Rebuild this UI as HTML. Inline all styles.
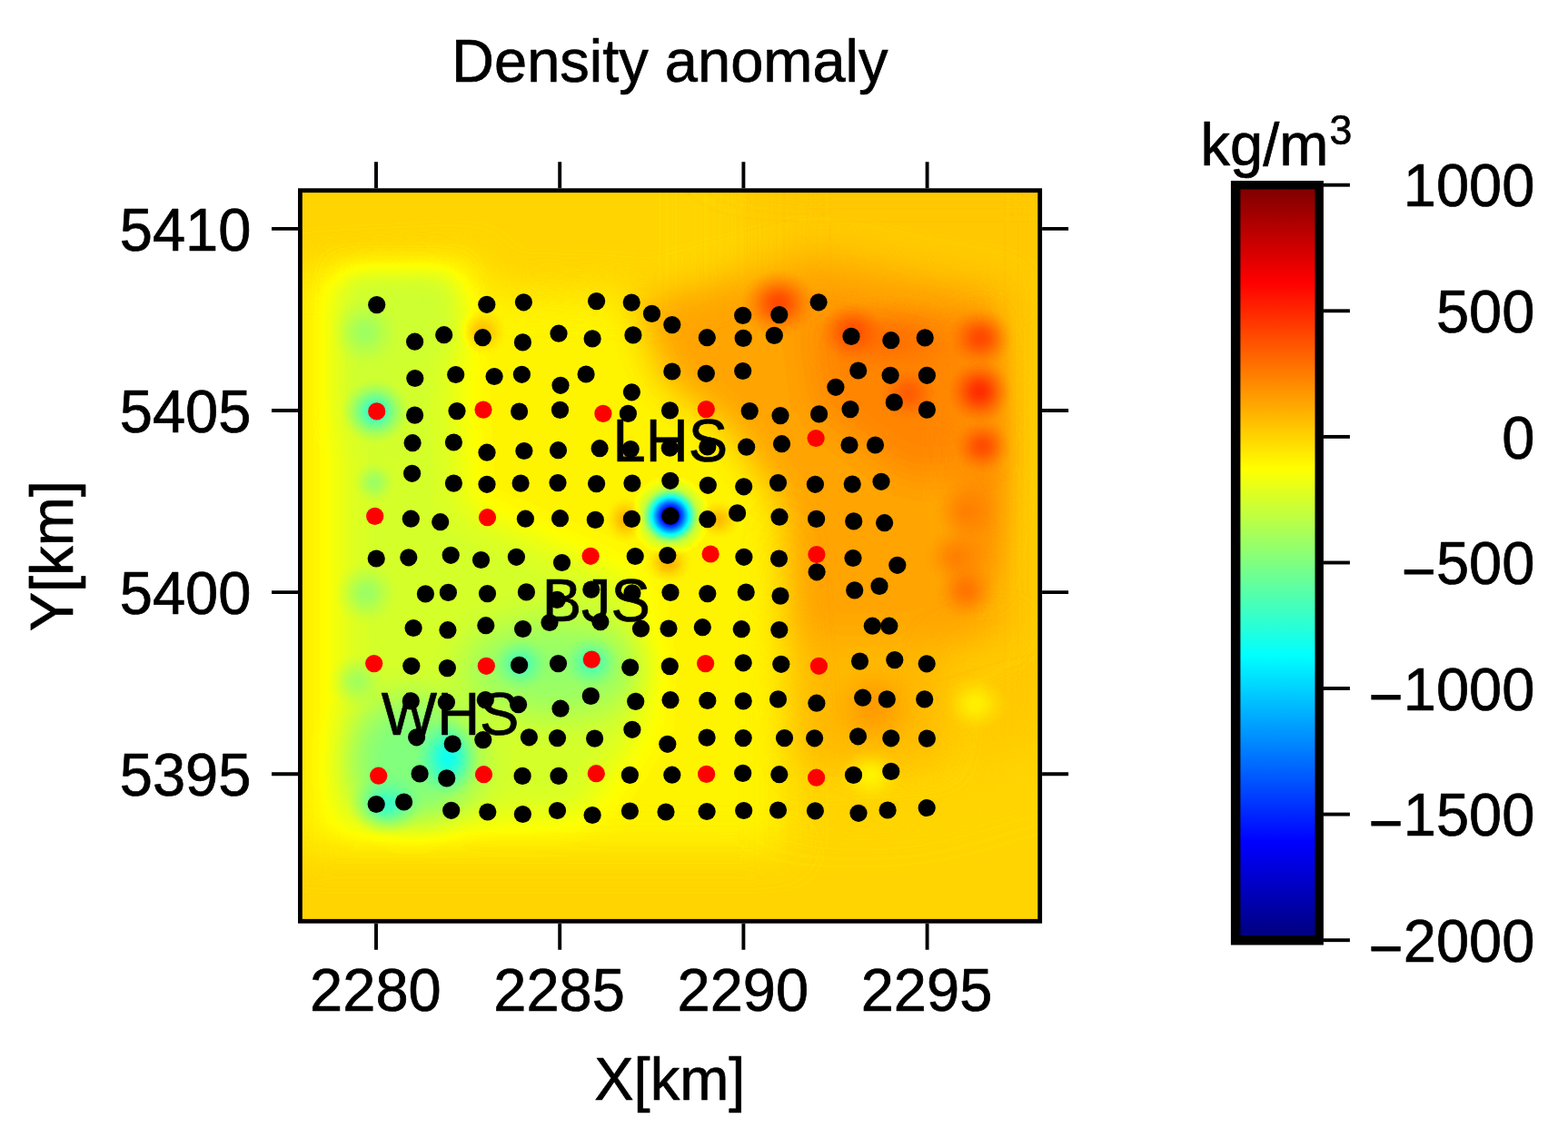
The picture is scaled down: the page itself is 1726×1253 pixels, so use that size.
<!DOCTYPE html>
<html lang="en"><head><meta charset="utf-8"><title>Density anomaly</title>
<style>html,body{margin:0;padding:0;background:#fff}body{width:1726px;height:1253px;overflow:hidden}svg{display:block}text{font-family:"Liberation Sans",Arial,Helvetica,sans-serif;font-size:65px;fill:#000;stroke:#000;stroke-width:0.7px;stroke-linejoin:round}</style>
</head><body>
<svg width="1726" height="1253" viewBox="0 0 1726 1253" role="img" aria-label="Density anomaly map">
<defs>
<radialGradient id="g50" cx="0.5" cy="0.5" r="0.5"><stop offset="0.0" stop-color="rgb(13,13,13)" stop-opacity="1.000"/><stop offset="0.1" stop-color="rgb(13,13,13)" stop-opacity="0.974"/><stop offset="0.2" stop-color="rgb(13,13,13)" stop-opacity="0.899"/><stop offset="0.3" stop-color="rgb(13,13,13)" stop-opacity="0.785"/><stop offset="0.4" stop-color="rgb(13,13,13)" stop-opacity="0.648"/><stop offset="0.5" stop-color="rgb(13,13,13)" stop-opacity="0.502"/><stop offset="0.6" stop-color="rgb(13,13,13)" stop-opacity="0.362"/><stop offset="0.7" stop-color="rgb(13,13,13)" stop-opacity="0.238"/><stop offset="0.8" stop-color="rgb(13,13,13)" stop-opacity="0.136"/><stop offset="0.9" stop-color="rgb(13,13,13)" stop-opacity="0.057"/><stop offset="1.0" stop-color="rgb(13,13,13)" stop-opacity="0.000"/></radialGradient>
<radialGradient id="g380" cx="0.5" cy="0.5" r="0.5"><stop offset="0.0" stop-color="rgb(97,97,97)" stop-opacity="1.000"/><stop offset="0.1" stop-color="rgb(97,97,97)" stop-opacity="0.974"/><stop offset="0.2" stop-color="rgb(97,97,97)" stop-opacity="0.899"/><stop offset="0.3" stop-color="rgb(97,97,97)" stop-opacity="0.785"/><stop offset="0.4" stop-color="rgb(97,97,97)" stop-opacity="0.648"/><stop offset="0.5" stop-color="rgb(97,97,97)" stop-opacity="0.502"/><stop offset="0.6" stop-color="rgb(97,97,97)" stop-opacity="0.362"/><stop offset="0.7" stop-color="rgb(97,97,97)" stop-opacity="0.238"/><stop offset="0.8" stop-color="rgb(97,97,97)" stop-opacity="0.136"/><stop offset="0.9" stop-color="rgb(97,97,97)" stop-opacity="0.057"/><stop offset="1.0" stop-color="rgb(97,97,97)" stop-opacity="0.000"/></radialGradient>
<radialGradient id="g390" cx="0.5" cy="0.5" r="0.5"><stop offset="0.0" stop-color="rgb(99,99,99)" stop-opacity="1.000"/><stop offset="0.1" stop-color="rgb(99,99,99)" stop-opacity="0.974"/><stop offset="0.2" stop-color="rgb(99,99,99)" stop-opacity="0.899"/><stop offset="0.3" stop-color="rgb(99,99,99)" stop-opacity="0.785"/><stop offset="0.4" stop-color="rgb(99,99,99)" stop-opacity="0.648"/><stop offset="0.5" stop-color="rgb(99,99,99)" stop-opacity="0.502"/><stop offset="0.6" stop-color="rgb(99,99,99)" stop-opacity="0.362"/><stop offset="0.7" stop-color="rgb(99,99,99)" stop-opacity="0.238"/><stop offset="0.8" stop-color="rgb(99,99,99)" stop-opacity="0.136"/><stop offset="0.9" stop-color="rgb(99,99,99)" stop-opacity="0.057"/><stop offset="1.0" stop-color="rgb(99,99,99)" stop-opacity="0.000"/></radialGradient>
<radialGradient id="g420" cx="0.5" cy="0.5" r="0.5"><stop offset="0.0" stop-color="rgb(107,107,107)" stop-opacity="1.000"/><stop offset="0.1" stop-color="rgb(107,107,107)" stop-opacity="0.974"/><stop offset="0.2" stop-color="rgb(107,107,107)" stop-opacity="0.899"/><stop offset="0.3" stop-color="rgb(107,107,107)" stop-opacity="0.785"/><stop offset="0.4" stop-color="rgb(107,107,107)" stop-opacity="0.648"/><stop offset="0.5" stop-color="rgb(107,107,107)" stop-opacity="0.502"/><stop offset="0.6" stop-color="rgb(107,107,107)" stop-opacity="0.362"/><stop offset="0.7" stop-color="rgb(107,107,107)" stop-opacity="0.238"/><stop offset="0.8" stop-color="rgb(107,107,107)" stop-opacity="0.136"/><stop offset="0.9" stop-color="rgb(107,107,107)" stop-opacity="0.057"/><stop offset="1.0" stop-color="rgb(107,107,107)" stop-opacity="0.000"/></radialGradient>
<radialGradient id="g425" cx="0.5" cy="0.5" r="0.5"><stop offset="0.0" stop-color="rgb(108,108,108)" stop-opacity="1.000"/><stop offset="0.1" stop-color="rgb(108,108,108)" stop-opacity="0.974"/><stop offset="0.2" stop-color="rgb(108,108,108)" stop-opacity="0.899"/><stop offset="0.3" stop-color="rgb(108,108,108)" stop-opacity="0.785"/><stop offset="0.4" stop-color="rgb(108,108,108)" stop-opacity="0.648"/><stop offset="0.5" stop-color="rgb(108,108,108)" stop-opacity="0.502"/><stop offset="0.6" stop-color="rgb(108,108,108)" stop-opacity="0.362"/><stop offset="0.7" stop-color="rgb(108,108,108)" stop-opacity="0.238"/><stop offset="0.8" stop-color="rgb(108,108,108)" stop-opacity="0.136"/><stop offset="0.9" stop-color="rgb(108,108,108)" stop-opacity="0.057"/><stop offset="1.0" stop-color="rgb(108,108,108)" stop-opacity="0.000"/></radialGradient>
<radialGradient id="g440" cx="0.5" cy="0.5" r="0.5"><stop offset="0.0" stop-color="rgb(112,112,112)" stop-opacity="1.000"/><stop offset="0.1" stop-color="rgb(112,112,112)" stop-opacity="0.974"/><stop offset="0.2" stop-color="rgb(112,112,112)" stop-opacity="0.899"/><stop offset="0.3" stop-color="rgb(112,112,112)" stop-opacity="0.785"/><stop offset="0.4" stop-color="rgb(112,112,112)" stop-opacity="0.648"/><stop offset="0.5" stop-color="rgb(112,112,112)" stop-opacity="0.502"/><stop offset="0.6" stop-color="rgb(112,112,112)" stop-opacity="0.362"/><stop offset="0.7" stop-color="rgb(112,112,112)" stop-opacity="0.238"/><stop offset="0.8" stop-color="rgb(112,112,112)" stop-opacity="0.136"/><stop offset="0.9" stop-color="rgb(112,112,112)" stop-opacity="0.057"/><stop offset="1.0" stop-color="rgb(112,112,112)" stop-opacity="0.000"/></radialGradient>
<radialGradient id="g520" cx="0.5" cy="0.5" r="0.5"><stop offset="0.0" stop-color="rgb(133,133,133)" stop-opacity="1.000"/><stop offset="0.1" stop-color="rgb(133,133,133)" stop-opacity="0.974"/><stop offset="0.2" stop-color="rgb(133,133,133)" stop-opacity="0.899"/><stop offset="0.3" stop-color="rgb(133,133,133)" stop-opacity="0.785"/><stop offset="0.4" stop-color="rgb(133,133,133)" stop-opacity="0.648"/><stop offset="0.5" stop-color="rgb(133,133,133)" stop-opacity="0.502"/><stop offset="0.6" stop-color="rgb(133,133,133)" stop-opacity="0.362"/><stop offset="0.7" stop-color="rgb(133,133,133)" stop-opacity="0.238"/><stop offset="0.8" stop-color="rgb(133,133,133)" stop-opacity="0.136"/><stop offset="0.9" stop-color="rgb(133,133,133)" stop-opacity="0.057"/><stop offset="1.0" stop-color="rgb(133,133,133)" stop-opacity="0.000"/></radialGradient>
<radialGradient id="g525" cx="0.5" cy="0.5" r="0.5"><stop offset="0.0" stop-color="rgb(134,134,134)" stop-opacity="1.000"/><stop offset="0.1" stop-color="rgb(134,134,134)" stop-opacity="0.974"/><stop offset="0.2" stop-color="rgb(134,134,134)" stop-opacity="0.899"/><stop offset="0.3" stop-color="rgb(134,134,134)" stop-opacity="0.785"/><stop offset="0.4" stop-color="rgb(134,134,134)" stop-opacity="0.648"/><stop offset="0.5" stop-color="rgb(134,134,134)" stop-opacity="0.502"/><stop offset="0.6" stop-color="rgb(134,134,134)" stop-opacity="0.362"/><stop offset="0.7" stop-color="rgb(134,134,134)" stop-opacity="0.238"/><stop offset="0.8" stop-color="rgb(134,134,134)" stop-opacity="0.136"/><stop offset="0.9" stop-color="rgb(134,134,134)" stop-opacity="0.057"/><stop offset="1.0" stop-color="rgb(134,134,134)" stop-opacity="0.000"/></radialGradient>
<radialGradient id="g530" cx="0.5" cy="0.5" r="0.5"><stop offset="0.0" stop-color="rgb(135,135,135)" stop-opacity="1.000"/><stop offset="0.1" stop-color="rgb(135,135,135)" stop-opacity="0.974"/><stop offset="0.2" stop-color="rgb(135,135,135)" stop-opacity="0.899"/><stop offset="0.3" stop-color="rgb(135,135,135)" stop-opacity="0.785"/><stop offset="0.4" stop-color="rgb(135,135,135)" stop-opacity="0.648"/><stop offset="0.5" stop-color="rgb(135,135,135)" stop-opacity="0.502"/><stop offset="0.6" stop-color="rgb(135,135,135)" stop-opacity="0.362"/><stop offset="0.7" stop-color="rgb(135,135,135)" stop-opacity="0.238"/><stop offset="0.8" stop-color="rgb(135,135,135)" stop-opacity="0.136"/><stop offset="0.9" stop-color="rgb(135,135,135)" stop-opacity="0.057"/><stop offset="1.0" stop-color="rgb(135,135,135)" stop-opacity="0.000"/></radialGradient>
<radialGradient id="g635" cx="0.5" cy="0.5" r="0.5"><stop offset="0.0" stop-color="rgb(162,162,162)" stop-opacity="1.000"/><stop offset="0.1" stop-color="rgb(162,162,162)" stop-opacity="0.974"/><stop offset="0.2" stop-color="rgb(162,162,162)" stop-opacity="0.899"/><stop offset="0.3" stop-color="rgb(162,162,162)" stop-opacity="0.785"/><stop offset="0.4" stop-color="rgb(162,162,162)" stop-opacity="0.648"/><stop offset="0.5" stop-color="rgb(162,162,162)" stop-opacity="0.502"/><stop offset="0.6" stop-color="rgb(162,162,162)" stop-opacity="0.362"/><stop offset="0.7" stop-color="rgb(162,162,162)" stop-opacity="0.238"/><stop offset="0.8" stop-color="rgb(162,162,162)" stop-opacity="0.136"/><stop offset="0.9" stop-color="rgb(162,162,162)" stop-opacity="0.057"/><stop offset="1.0" stop-color="rgb(162,162,162)" stop-opacity="0.000"/></radialGradient>
<radialGradient id="g640" cx="0.5" cy="0.5" r="0.5"><stop offset="0.0" stop-color="rgb(163,163,163)" stop-opacity="1.000"/><stop offset="0.1" stop-color="rgb(163,163,163)" stop-opacity="0.974"/><stop offset="0.2" stop-color="rgb(163,163,163)" stop-opacity="0.899"/><stop offset="0.3" stop-color="rgb(163,163,163)" stop-opacity="0.785"/><stop offset="0.4" stop-color="rgb(163,163,163)" stop-opacity="0.648"/><stop offset="0.5" stop-color="rgb(163,163,163)" stop-opacity="0.502"/><stop offset="0.6" stop-color="rgb(163,163,163)" stop-opacity="0.362"/><stop offset="0.7" stop-color="rgb(163,163,163)" stop-opacity="0.238"/><stop offset="0.8" stop-color="rgb(163,163,163)" stop-opacity="0.136"/><stop offset="0.9" stop-color="rgb(163,163,163)" stop-opacity="0.057"/><stop offset="1.0" stop-color="rgb(163,163,163)" stop-opacity="0.000"/></radialGradient>
<radialGradient id="g685" cx="0.5" cy="0.5" r="0.5"><stop offset="0.0" stop-color="rgb(175,175,175)" stop-opacity="1.000"/><stop offset="0.1" stop-color="rgb(175,175,175)" stop-opacity="0.974"/><stop offset="0.2" stop-color="rgb(175,175,175)" stop-opacity="0.899"/><stop offset="0.3" stop-color="rgb(175,175,175)" stop-opacity="0.785"/><stop offset="0.4" stop-color="rgb(175,175,175)" stop-opacity="0.648"/><stop offset="0.5" stop-color="rgb(175,175,175)" stop-opacity="0.502"/><stop offset="0.6" stop-color="rgb(175,175,175)" stop-opacity="0.362"/><stop offset="0.7" stop-color="rgb(175,175,175)" stop-opacity="0.238"/><stop offset="0.8" stop-color="rgb(175,175,175)" stop-opacity="0.136"/><stop offset="0.9" stop-color="rgb(175,175,175)" stop-opacity="0.057"/><stop offset="1.0" stop-color="rgb(175,175,175)" stop-opacity="0.000"/></radialGradient>
<radialGradient id="g690" cx="0.5" cy="0.5" r="0.5"><stop offset="0.0" stop-color="rgb(176,176,176)" stop-opacity="1.000"/><stop offset="0.1" stop-color="rgb(176,176,176)" stop-opacity="0.974"/><stop offset="0.2" stop-color="rgb(176,176,176)" stop-opacity="0.899"/><stop offset="0.3" stop-color="rgb(176,176,176)" stop-opacity="0.785"/><stop offset="0.4" stop-color="rgb(176,176,176)" stop-opacity="0.648"/><stop offset="0.5" stop-color="rgb(176,176,176)" stop-opacity="0.502"/><stop offset="0.6" stop-color="rgb(176,176,176)" stop-opacity="0.362"/><stop offset="0.7" stop-color="rgb(176,176,176)" stop-opacity="0.238"/><stop offset="0.8" stop-color="rgb(176,176,176)" stop-opacity="0.136"/><stop offset="0.9" stop-color="rgb(176,176,176)" stop-opacity="0.057"/><stop offset="1.0" stop-color="rgb(176,176,176)" stop-opacity="0.000"/></radialGradient>
<radialGradient id="g700" cx="0.5" cy="0.5" r="0.5"><stop offset="0.0" stop-color="rgb(178,178,178)" stop-opacity="1.000"/><stop offset="0.1" stop-color="rgb(178,178,178)" stop-opacity="0.974"/><stop offset="0.2" stop-color="rgb(178,178,178)" stop-opacity="0.899"/><stop offset="0.3" stop-color="rgb(178,178,178)" stop-opacity="0.785"/><stop offset="0.4" stop-color="rgb(178,178,178)" stop-opacity="0.648"/><stop offset="0.5" stop-color="rgb(178,178,178)" stop-opacity="0.502"/><stop offset="0.6" stop-color="rgb(178,178,178)" stop-opacity="0.362"/><stop offset="0.7" stop-color="rgb(178,178,178)" stop-opacity="0.238"/><stop offset="0.8" stop-color="rgb(178,178,178)" stop-opacity="0.136"/><stop offset="0.9" stop-color="rgb(178,178,178)" stop-opacity="0.057"/><stop offset="1.0" stop-color="rgb(178,178,178)" stop-opacity="0.000"/></radialGradient>
<radialGradient id="g720" cx="0.5" cy="0.5" r="0.5"><stop offset="0.0" stop-color="rgb(184,184,184)" stop-opacity="1.000"/><stop offset="0.1" stop-color="rgb(184,184,184)" stop-opacity="0.974"/><stop offset="0.2" stop-color="rgb(184,184,184)" stop-opacity="0.899"/><stop offset="0.3" stop-color="rgb(184,184,184)" stop-opacity="0.785"/><stop offset="0.4" stop-color="rgb(184,184,184)" stop-opacity="0.648"/><stop offset="0.5" stop-color="rgb(184,184,184)" stop-opacity="0.502"/><stop offset="0.6" stop-color="rgb(184,184,184)" stop-opacity="0.362"/><stop offset="0.7" stop-color="rgb(184,184,184)" stop-opacity="0.238"/><stop offset="0.8" stop-color="rgb(184,184,184)" stop-opacity="0.136"/><stop offset="0.9" stop-color="rgb(184,184,184)" stop-opacity="0.057"/><stop offset="1.0" stop-color="rgb(184,184,184)" stop-opacity="0.000"/></radialGradient>
<radialGradient id="g750" cx="0.5" cy="0.5" r="0.5"><stop offset="0.0" stop-color="rgb(191,191,191)" stop-opacity="1.000"/><stop offset="0.1" stop-color="rgb(191,191,191)" stop-opacity="0.974"/><stop offset="0.2" stop-color="rgb(191,191,191)" stop-opacity="0.899"/><stop offset="0.3" stop-color="rgb(191,191,191)" stop-opacity="0.785"/><stop offset="0.4" stop-color="rgb(191,191,191)" stop-opacity="0.648"/><stop offset="0.5" stop-color="rgb(191,191,191)" stop-opacity="0.502"/><stop offset="0.6" stop-color="rgb(191,191,191)" stop-opacity="0.362"/><stop offset="0.7" stop-color="rgb(191,191,191)" stop-opacity="0.238"/><stop offset="0.8" stop-color="rgb(191,191,191)" stop-opacity="0.136"/><stop offset="0.9" stop-color="rgb(191,191,191)" stop-opacity="0.057"/><stop offset="1.0" stop-color="rgb(191,191,191)" stop-opacity="0.000"/></radialGradient>
<radialGradient id="g760" cx="0.5" cy="0.5" r="0.5"><stop offset="0.0" stop-color="rgb(194,194,194)" stop-opacity="1.000"/><stop offset="0.1" stop-color="rgb(194,194,194)" stop-opacity="0.974"/><stop offset="0.2" stop-color="rgb(194,194,194)" stop-opacity="0.899"/><stop offset="0.3" stop-color="rgb(194,194,194)" stop-opacity="0.785"/><stop offset="0.4" stop-color="rgb(194,194,194)" stop-opacity="0.648"/><stop offset="0.5" stop-color="rgb(194,194,194)" stop-opacity="0.502"/><stop offset="0.6" stop-color="rgb(194,194,194)" stop-opacity="0.362"/><stop offset="0.7" stop-color="rgb(194,194,194)" stop-opacity="0.238"/><stop offset="0.8" stop-color="rgb(194,194,194)" stop-opacity="0.136"/><stop offset="0.9" stop-color="rgb(194,194,194)" stop-opacity="0.057"/><stop offset="1.0" stop-color="rgb(194,194,194)" stop-opacity="0.000"/></radialGradient>
<radialGradient id="g785" cx="0.5" cy="0.5" r="0.5"><stop offset="0.0" stop-color="rgb(200,200,200)" stop-opacity="1.000"/><stop offset="0.1" stop-color="rgb(200,200,200)" stop-opacity="0.974"/><stop offset="0.2" stop-color="rgb(200,200,200)" stop-opacity="0.899"/><stop offset="0.3" stop-color="rgb(200,200,200)" stop-opacity="0.785"/><stop offset="0.4" stop-color="rgb(200,200,200)" stop-opacity="0.648"/><stop offset="0.5" stop-color="rgb(200,200,200)" stop-opacity="0.502"/><stop offset="0.6" stop-color="rgb(200,200,200)" stop-opacity="0.362"/><stop offset="0.7" stop-color="rgb(200,200,200)" stop-opacity="0.238"/><stop offset="0.8" stop-color="rgb(200,200,200)" stop-opacity="0.136"/><stop offset="0.9" stop-color="rgb(200,200,200)" stop-opacity="0.057"/><stop offset="1.0" stop-color="rgb(200,200,200)" stop-opacity="0.000"/></radialGradient>
<radialGradient id="g795" cx="0.5" cy="0.5" r="0.5"><stop offset="0.0" stop-color="rgb(203,203,203)" stop-opacity="1.000"/><stop offset="0.1" stop-color="rgb(203,203,203)" stop-opacity="0.974"/><stop offset="0.2" stop-color="rgb(203,203,203)" stop-opacity="0.899"/><stop offset="0.3" stop-color="rgb(203,203,203)" stop-opacity="0.785"/><stop offset="0.4" stop-color="rgb(203,203,203)" stop-opacity="0.648"/><stop offset="0.5" stop-color="rgb(203,203,203)" stop-opacity="0.502"/><stop offset="0.6" stop-color="rgb(203,203,203)" stop-opacity="0.362"/><stop offset="0.7" stop-color="rgb(203,203,203)" stop-opacity="0.238"/><stop offset="0.8" stop-color="rgb(203,203,203)" stop-opacity="0.136"/><stop offset="0.9" stop-color="rgb(203,203,203)" stop-opacity="0.057"/><stop offset="1.0" stop-color="rgb(203,203,203)" stop-opacity="0.000"/></radialGradient>
<radialGradient id="g800" cx="0.5" cy="0.5" r="0.5"><stop offset="0.0" stop-color="rgb(204,204,204)" stop-opacity="1.000"/><stop offset="0.1" stop-color="rgb(204,204,204)" stop-opacity="0.974"/><stop offset="0.2" stop-color="rgb(204,204,204)" stop-opacity="0.899"/><stop offset="0.3" stop-color="rgb(204,204,204)" stop-opacity="0.785"/><stop offset="0.4" stop-color="rgb(204,204,204)" stop-opacity="0.648"/><stop offset="0.5" stop-color="rgb(204,204,204)" stop-opacity="0.502"/><stop offset="0.6" stop-color="rgb(204,204,204)" stop-opacity="0.362"/><stop offset="0.7" stop-color="rgb(204,204,204)" stop-opacity="0.238"/><stop offset="0.8" stop-color="rgb(204,204,204)" stop-opacity="0.136"/><stop offset="0.9" stop-color="rgb(204,204,204)" stop-opacity="0.057"/><stop offset="1.0" stop-color="rgb(204,204,204)" stop-opacity="0.000"/></radialGradient>
<radialGradient id="g805" cx="0.5" cy="0.5" r="0.5"><stop offset="0.0" stop-color="rgb(205,205,205)" stop-opacity="1.000"/><stop offset="0.1" stop-color="rgb(205,205,205)" stop-opacity="0.974"/><stop offset="0.2" stop-color="rgb(205,205,205)" stop-opacity="0.899"/><stop offset="0.3" stop-color="rgb(205,205,205)" stop-opacity="0.785"/><stop offset="0.4" stop-color="rgb(205,205,205)" stop-opacity="0.648"/><stop offset="0.5" stop-color="rgb(205,205,205)" stop-opacity="0.502"/><stop offset="0.6" stop-color="rgb(205,205,205)" stop-opacity="0.362"/><stop offset="0.7" stop-color="rgb(205,205,205)" stop-opacity="0.238"/><stop offset="0.8" stop-color="rgb(205,205,205)" stop-opacity="0.136"/><stop offset="0.9" stop-color="rgb(205,205,205)" stop-opacity="0.057"/><stop offset="1.0" stop-color="rgb(205,205,205)" stop-opacity="0.000"/></radialGradient>
<radialGradient id="g830" cx="0.5" cy="0.5" r="0.5"><stop offset="0.0" stop-color="rgb(212,212,212)" stop-opacity="1.000"/><stop offset="0.1" stop-color="rgb(212,212,212)" stop-opacity="0.974"/><stop offset="0.2" stop-color="rgb(212,212,212)" stop-opacity="0.899"/><stop offset="0.3" stop-color="rgb(212,212,212)" stop-opacity="0.785"/><stop offset="0.4" stop-color="rgb(212,212,212)" stop-opacity="0.648"/><stop offset="0.5" stop-color="rgb(212,212,212)" stop-opacity="0.502"/><stop offset="0.6" stop-color="rgb(212,212,212)" stop-opacity="0.362"/><stop offset="0.7" stop-color="rgb(212,212,212)" stop-opacity="0.238"/><stop offset="0.8" stop-color="rgb(212,212,212)" stop-opacity="0.136"/><stop offset="0.9" stop-color="rgb(212,212,212)" stop-opacity="0.057"/><stop offset="1.0" stop-color="rgb(212,212,212)" stop-opacity="0.000"/></radialGradient>
<filter id="b40" x="-0.5" y="-0.5" width="2" height="2" color-interpolation-filters="sRGB"><feGaussianBlur stdDeviation="40"/></filter>
<filter id="b20" x="-0.5" y="-0.5" width="2" height="2" color-interpolation-filters="sRGB"><feGaussianBlur stdDeviation="20"/></filter>
<filter id="b15" x="-0.5" y="-0.5" width="2" height="2" color-interpolation-filters="sRGB"><feGaussianBlur stdDeviation="15"/></filter>
<filter id="jet" x="0" y="0" width="1" height="1" filterUnits="objectBoundingBox" color-interpolation-filters="sRGB"><feComponentTransfer><feFuncR type="table" tableValues="0 0 0 0 0.5 1 1 1 0.5"/><feFuncG type="table" tableValues="0 0 0.5 1 1 1 0.5 0 0"/><feFuncB type="table" tableValues="0.5 1 1 1 0.5 0 0 0 0"/></feComponentTransfer></filter>
<linearGradient id="cb" x1="0" y1="1" x2="0" y2="0"><stop offset="0" stop-color="#000080"/><stop offset="0.125" stop-color="#0000ff"/><stop offset="0.375" stop-color="#00ffff"/><stop offset="0.625" stop-color="#ffff00"/><stop offset="0.875" stop-color="#ff0000"/><stop offset="1" stop-color="#800000"/></linearGradient>
<clipPath id="pc"><rect x="330.4" y="209.7" width="814.3" height="804.6"/></clipPath>
</defs>
<rect width="1726" height="1253" fill="#fff"/>
<g clip-path="url(#pc)"><g filter="url(#jet)">
<rect x="320.4" y="199.7" width="834.3" height="824.6" fill="rgb(170,170,170)"/>
<g filter="url(#b40)">
<polygon points="820,150 1200,150 1200,800 1000,860 870,860 820,500" fill="rgb(173,173,173)"/>
</g>
<g filter="url(#b20)">
<polygon points="325,300 520,290 545,322 690,325 780,400 830,480 862,560 862,935 325,935" fill="rgb(162,162,162)"/>
<polygon points="372,310 500,310 512,560 700,640 710,800 640,900 372,910" fill="rgb(149,149,149)"/>
<polygon points="700,335 900,282 1105,322 1105,690 1040,715 872,715 862,560 800,470 730,420" fill="rgb(182,182,182)"/>
<polygon points="872,700 1040,700 1030,830 882,840" fill="rgb(177,177,177)"/>
<polygon points="885,340 1095,350 1095,515 1000,525 900,450" fill="rgb(190,190,190)"/>
<ellipse cx="610" cy="735" rx="100" ry="52" fill="rgb(133,133,133)"/>
<ellipse cx="455" cy="838" rx="72" ry="70" fill="rgb(128,128,128)"/>
</g>
<g filter="url(#b15)">
<polygon points="380,303 500,303 500,388 440,398 436,470 380,470" fill="rgb(147,147,147)"/>
<ellipse cx="975" cy="374" rx="55" ry="18" fill="rgb(196,196,196)"/>
<ellipse cx="1078" cy="500" rx="26" ry="150" fill="rgb(187,187,187)"/>
</g>
<ellipse cx="402" cy="366" rx="38" ry="38" fill="url(#g525)" opacity="0.9"/>
<ellipse cx="413" cy="453" rx="38" ry="36" fill="url(#g425)" opacity="1"/>
<ellipse cx="412" cy="531" rx="24" ry="24" fill="url(#g520)" opacity="0.9"/>
<ellipse cx="403" cy="653" rx="36" ry="36" fill="url(#g520)" opacity="0.9"/>
<ellipse cx="393" cy="750" rx="32" ry="32" fill="url(#g530)" opacity="0.9"/>
<ellipse cx="573" cy="731" rx="32" ry="30" fill="url(#g440)" opacity="0.9"/>
<ellipse cx="651" cy="729" rx="32" ry="30" fill="url(#g440)" opacity="0.9"/>
<ellipse cx="493" cy="834" rx="36" ry="44" fill="url(#g390)" opacity="1"/>
<ellipse cx="425" cy="886" rx="42" ry="34" fill="url(#g420)" opacity="0.9"/>
<ellipse cx="738" cy="568" rx="45" ry="45" fill="url(#g380)" opacity="1"/>
<ellipse cx="738" cy="568" rx="30" ry="30" fill="url(#g50)" opacity="1"/>
<ellipse cx="791" cy="572" rx="24" ry="22" fill="url(#g690)" opacity="1"/>
<ellipse cx="857" cy="334" rx="42" ry="38" fill="url(#g805)" opacity="1"/>
<ellipse cx="938" cy="365" rx="36" ry="32" fill="url(#g795)" opacity="1"/>
<ellipse cx="1079" cy="372" rx="36" ry="33" fill="url(#g805)" opacity="1"/>
<ellipse cx="1078" cy="431" rx="36" ry="36" fill="url(#g830)" opacity="1"/>
<ellipse cx="1081" cy="491" rx="32" ry="30" fill="url(#g800)" opacity="1"/>
<ellipse cx="1000" cy="433" rx="32" ry="30" fill="url(#g785)" opacity="1"/>
<ellipse cx="1065" cy="563" rx="36" ry="36" fill="url(#g750)" opacity="1"/>
<ellipse cx="1053" cy="613" rx="36" ry="34" fill="url(#g750)" opacity="1"/>
<ellipse cx="1063" cy="650" rx="34" ry="34" fill="url(#g760)" opacity="1"/>
<ellipse cx="531" cy="365" rx="28" ry="28" fill="url(#g685)" opacity="1"/>
<ellipse cx="688" cy="572" rx="22" ry="26" fill="url(#g700)" opacity="1"/>
<ellipse cx="736" cy="620" rx="26" ry="22" fill="url(#g700)" opacity="1"/>
<ellipse cx="962" cy="778" rx="50" ry="50" fill="url(#g720)" opacity="1"/>
<ellipse cx="1074" cy="775" rx="36" ry="32" fill="url(#g640)" opacity="1"/>
<ellipse cx="958" cy="854" rx="36" ry="30" fill="url(#g635)" opacity="1"/>
</g></g>
<g fill="#000">
<circle cx="414.7" cy="335.6" r="9.6"/>
<circle cx="535.8" cy="335.3" r="9.6"/>
<circle cx="576.4" cy="332.8" r="9.6"/>
<circle cx="656.6" cy="331.6" r="9.6"/>
<circle cx="695.2" cy="333.1" r="9.6"/>
<circle cx="717.5" cy="345.4" r="9.6"/>
<circle cx="739.8" cy="357.6" r="9.6"/>
<circle cx="456.6" cy="376.2" r="9.6"/>
<circle cx="488.7" cy="368.7" r="9.6"/>
<circle cx="531.3" cy="371.7" r="9.6"/>
<circle cx="575.4" cy="376.9" r="9.6"/>
<circle cx="615.0" cy="367.2" r="9.6"/>
<circle cx="652.1" cy="372.9" r="9.6"/>
<circle cx="696.9" cy="368.9" r="9.6"/>
<circle cx="456.8" cy="416.5" r="9.6"/>
<circle cx="501.7" cy="412.5" r="9.6"/>
<circle cx="544.1" cy="414.5" r="9.6"/>
<circle cx="574.4" cy="412.3" r="9.6"/>
<circle cx="617.0" cy="424.3" r="9.6"/>
<circle cx="645.1" cy="412.0" r="9.6"/>
<circle cx="739.8" cy="409.0" r="9.6"/>
<circle cx="695.4" cy="431.8" r="9.6"/>
<circle cx="456.6" cy="457.1" r="9.6"/>
<circle cx="503.0" cy="452.6" r="9.6"/>
<circle cx="571.6" cy="453.1" r="9.6"/>
<circle cx="616.5" cy="451.4" r="9.6"/>
<circle cx="691.4" cy="455.4" r="9.6"/>
<circle cx="737.5" cy="451.9" r="9.6"/>
<circle cx="454.1" cy="487.7" r="9.6"/>
<circle cx="499.4" cy="487.0" r="9.6"/>
<circle cx="536.0" cy="498.2" r="9.6"/>
<circle cx="576.9" cy="496.5" r="9.6"/>
<circle cx="614.5" cy="495.7" r="9.6"/>
<circle cx="660.1" cy="493.7" r="9.6"/>
<circle cx="694.2" cy="494.5" r="9.6"/>
<circle cx="737.3" cy="493.2" r="9.6"/>
<circle cx="901.1" cy="332.8" r="9.6"/>
<circle cx="817.7" cy="347.4" r="9.6"/>
<circle cx="857.8" cy="346.6" r="9.6"/>
<circle cx="778.3" cy="371.7" r="9.6"/>
<circle cx="818.2" cy="372.4" r="9.6"/>
<circle cx="852.3" cy="369.4" r="9.6"/>
<circle cx="937.0" cy="370.4" r="9.6"/>
<circle cx="980.8" cy="374.7" r="9.6"/>
<circle cx="1018.2" cy="371.9" r="9.6"/>
<circle cx="777.3" cy="411.3" r="9.6"/>
<circle cx="817.7" cy="408.5" r="9.6"/>
<circle cx="944.7" cy="408.0" r="9.6"/>
<circle cx="980.1" cy="413.3" r="9.6"/>
<circle cx="1020.4" cy="413.3" r="9.6"/>
<circle cx="919.9" cy="426.3" r="9.6"/>
<circle cx="825.2" cy="452.6" r="9.6"/>
<circle cx="859.0" cy="457.6" r="9.6"/>
<circle cx="901.6" cy="455.9" r="9.6"/>
<circle cx="936.0" cy="450.6" r="9.6"/>
<circle cx="984.3" cy="442.9" r="9.6"/>
<circle cx="1020.4" cy="451.1" r="9.6"/>
<circle cx="778.8" cy="492.0" r="9.6"/>
<circle cx="821.7" cy="492.2" r="9.6"/>
<circle cx="860.5" cy="488.7" r="9.6"/>
<circle cx="935.0" cy="490.0" r="9.6"/>
<circle cx="963.5" cy="490.0" r="9.6"/>
<circle cx="453.6" cy="521.3" r="9.6"/>
<circle cx="499.4" cy="532.1" r="9.6"/>
<circle cx="536.0" cy="533.3" r="9.6"/>
<circle cx="573.1" cy="532.1" r="9.6"/>
<circle cx="614.0" cy="531.6" r="9.6"/>
<circle cx="656.6" cy="532.6" r="9.6"/>
<circle cx="695.9" cy="532.1" r="9.6"/>
<circle cx="737.8" cy="529.3" r="9.6"/>
<circle cx="452.3" cy="571.2" r="9.6"/>
<circle cx="484.7" cy="574.7" r="9.6"/>
<circle cx="578.4" cy="571.2" r="9.6"/>
<circle cx="616.5" cy="570.7" r="9.6"/>
<circle cx="655.3" cy="572.4" r="9.6"/>
<circle cx="695.4" cy="571.4" r="9.6"/>
<circle cx="738.0" cy="568.2" r="9.6"/>
<circle cx="414.2" cy="615.0" r="9.6"/>
<circle cx="449.8" cy="613.8" r="9.6"/>
<circle cx="496.2" cy="611.3" r="9.6"/>
<circle cx="529.5" cy="616.5" r="9.6"/>
<circle cx="568.4" cy="613.3" r="9.6"/>
<circle cx="618.5" cy="619.5" r="9.6"/>
<circle cx="699.2" cy="612.5" r="9.6"/>
<circle cx="734.8" cy="611.5" r="9.6"/>
<circle cx="468.4" cy="653.9" r="9.6"/>
<circle cx="493.4" cy="652.4" r="9.6"/>
<circle cx="536.5" cy="653.6" r="9.6"/>
<circle cx="579.4" cy="651.9" r="9.6"/>
<circle cx="650.8" cy="649.1" r="9.6"/>
<circle cx="695.9" cy="652.9" r="9.6"/>
<circle cx="738.0" cy="652.4" r="9.6"/>
<circle cx="613.2" cy="660.4" r="9.6"/>
<circle cx="455.1" cy="691.5" r="9.6"/>
<circle cx="492.9" cy="693.7" r="9.6"/>
<circle cx="534.8" cy="688.7" r="9.6"/>
<circle cx="575.6" cy="692.5" r="9.6"/>
<circle cx="605.0" cy="685.5" r="9.6"/>
<circle cx="660.9" cy="684.7" r="9.6"/>
<circle cx="705.5" cy="692.2" r="9.6"/>
<circle cx="736.0" cy="692.0" r="9.6"/>
<circle cx="452.8" cy="733.3" r="9.6"/>
<circle cx="492.4" cy="735.6" r="9.6"/>
<circle cx="571.6" cy="732.3" r="9.6"/>
<circle cx="614.5" cy="730.6" r="9.6"/>
<circle cx="693.7" cy="734.8" r="9.6"/>
<circle cx="737.3" cy="733.6" r="9.6"/>
<circle cx="452.3" cy="771.9" r="9.6"/>
<circle cx="491.4" cy="773.2" r="9.6"/>
<circle cx="534.3" cy="770.7" r="9.6"/>
<circle cx="570.6" cy="775.7" r="9.6"/>
<circle cx="617.0" cy="780.2" r="9.6"/>
<circle cx="650.3" cy="766.4" r="9.6"/>
<circle cx="699.7" cy="772.4" r="9.6"/>
<circle cx="738.0" cy="770.7" r="9.6"/>
<circle cx="779.3" cy="534.3" r="9.6"/>
<circle cx="818.7" cy="535.8" r="9.6"/>
<circle cx="856.5" cy="531.6" r="9.6"/>
<circle cx="897.4" cy="533.3" r="9.6"/>
<circle cx="938.2" cy="533.1" r="9.6"/>
<circle cx="970.0" cy="530.3" r="9.6"/>
<circle cx="778.8" cy="571.7" r="9.6"/>
<circle cx="811.6" cy="564.9" r="9.6"/>
<circle cx="858.0" cy="569.2" r="9.6"/>
<circle cx="898.6" cy="571.4" r="9.6"/>
<circle cx="939.7" cy="573.9" r="9.6"/>
<circle cx="973.6" cy="575.7" r="9.6"/>
<circle cx="818.9" cy="613.3" r="9.6"/>
<circle cx="857.5" cy="615.0" r="9.6"/>
<circle cx="899.1" cy="629.8" r="9.6"/>
<circle cx="939.0" cy="614.5" r="9.6"/>
<circle cx="987.8" cy="622.3" r="9.6"/>
<circle cx="778.8" cy="653.6" r="9.6"/>
<circle cx="821.2" cy="652.1" r="9.6"/>
<circle cx="859.0" cy="656.1" r="9.6"/>
<circle cx="940.7" cy="649.9" r="9.6"/>
<circle cx="968.0" cy="645.4" r="9.6"/>
<circle cx="773.3" cy="690.7" r="9.6"/>
<circle cx="816.2" cy="692.7" r="9.6"/>
<circle cx="857.8" cy="693.5" r="9.6"/>
<circle cx="960.3" cy="689.2" r="9.6"/>
<circle cx="978.8" cy="689.2" r="9.6"/>
<circle cx="818.2" cy="729.8" r="9.6"/>
<circle cx="859.8" cy="731.3" r="9.6"/>
<circle cx="946.5" cy="728.1" r="9.6"/>
<circle cx="984.8" cy="726.6" r="9.6"/>
<circle cx="1020.2" cy="730.8" r="9.6"/>
<circle cx="778.8" cy="771.4" r="9.6"/>
<circle cx="818.2" cy="771.9" r="9.6"/>
<circle cx="856.5" cy="769.9" r="9.6"/>
<circle cx="898.9" cy="774.2" r="9.6"/>
<circle cx="949.7" cy="768.2" r="9.6"/>
<circle cx="976.3" cy="769.9" r="9.6"/>
<circle cx="1017.7" cy="769.9" r="9.6"/>
<circle cx="458.6" cy="811.8" r="9.6"/>
<circle cx="498.2" cy="819.1" r="9.6"/>
<circle cx="531.8" cy="814.6" r="9.6"/>
<circle cx="582.4" cy="811.8" r="9.6"/>
<circle cx="613.5" cy="812.6" r="9.6"/>
<circle cx="654.6" cy="813.1" r="9.6"/>
<circle cx="695.9" cy="803.3" r="9.6"/>
<circle cx="734.8" cy="819.3" r="9.6"/>
<circle cx="462.1" cy="851.9" r="9.6"/>
<circle cx="491.7" cy="856.9" r="9.6"/>
<circle cx="575.1" cy="854.4" r="9.6"/>
<circle cx="615.0" cy="854.4" r="9.6"/>
<circle cx="693.4" cy="853.4" r="9.6"/>
<circle cx="739.8" cy="853.2" r="9.6"/>
<circle cx="414.2" cy="885.5" r="9.6"/>
<circle cx="444.6" cy="883.0" r="9.6"/>
<circle cx="496.7" cy="892.3" r="9.6"/>
<circle cx="536.8" cy="894.0" r="9.6"/>
<circle cx="575.4" cy="896.5" r="9.6"/>
<circle cx="613.5" cy="892.5" r="9.6"/>
<circle cx="652.1" cy="897.5" r="9.6"/>
<circle cx="693.4" cy="893.0" r="9.6"/>
<circle cx="733.0" cy="894.0" r="9.6"/>
<circle cx="778.1" cy="812.1" r="9.6"/>
<circle cx="818.2" cy="812.6" r="9.6"/>
<circle cx="863.5" cy="812.6" r="9.6"/>
<circle cx="896.6" cy="812.8" r="9.6"/>
<circle cx="944.5" cy="810.8" r="9.6"/>
<circle cx="980.8" cy="812.8" r="9.6"/>
<circle cx="1020.4" cy="813.1" r="9.6"/>
<circle cx="817.7" cy="851.4" r="9.6"/>
<circle cx="857.8" cy="852.7" r="9.6"/>
<circle cx="939.5" cy="853.4" r="9.6"/>
<circle cx="980.8" cy="849.4" r="9.6"/>
<circle cx="778.1" cy="893.5" r="9.6"/>
<circle cx="818.7" cy="892.5" r="9.6"/>
<circle cx="856.5" cy="892.0" r="9.6"/>
<circle cx="897.4" cy="892.8" r="9.6"/>
<circle cx="945.0" cy="895.3" r="9.6"/>
<circle cx="977.1" cy="892.0" r="9.6"/>
<circle cx="1020.2" cy="889.5" r="9.6"/>
</g><g fill="#ff0000">
<circle cx="414.7" cy="452.9" r="9.6"/>
<circle cx="532.0" cy="451.1" r="9.6"/>
<circle cx="663.9" cy="455.4" r="9.6"/>
<circle cx="777.3" cy="450.6" r="9.6"/>
<circle cx="898.1" cy="482.5" r="9.6"/>
<circle cx="412.7" cy="568.4" r="9.6"/>
<circle cx="536.5" cy="569.7" r="9.6"/>
<circle cx="650.1" cy="612.3" r="9.6"/>
<circle cx="411.7" cy="730.6" r="9.6"/>
<circle cx="535.3" cy="733.3" r="9.6"/>
<circle cx="651.3" cy="726.1" r="9.6"/>
<circle cx="782.1" cy="610.0" r="9.6"/>
<circle cx="898.9" cy="610.5" r="9.6"/>
<circle cx="776.6" cy="730.6" r="9.6"/>
<circle cx="901.4" cy="733.3" r="9.6"/>
<circle cx="416.7" cy="854.2" r="9.6"/>
<circle cx="532.5" cy="852.7" r="9.6"/>
<circle cx="656.3" cy="851.7" r="9.6"/>
<circle cx="777.6" cy="852.4" r="9.6"/>
<circle cx="898.6" cy="856.2" r="9.6"/>
</g>
<text transform="translate(737.8 508.3) scale(1 1.022)" text-anchor="middle">LHS</text>
<text transform="translate(656.3 684.3) scale(1 1.022)" text-anchor="middle">BJS</text>
<text transform="translate(495.6 808.6) scale(1 1.022)" text-anchor="middle">WHS</text>
<rect x="330.4" y="209.7" width="814.3" height="804.6" fill="none" stroke="#000" stroke-width="4.8"/>
<g stroke="#000" stroke-width="3.9" fill="none">
<path d="M414.0 207.3v-29.0M414.0 1016.7v29.0"/>
<path d="M616.2 207.3v-29.0M616.2 1016.7v29.0"/>
<path d="M818.4 207.3v-29.0M818.4 1016.7v29.0"/>
<path d="M1020.6 207.3v-29.0M1020.6 1016.7v29.0"/>
<path d="M328.0 852.2h-29.0M1147.1 852.2h29.0"/>
<path d="M328.0 652.1h-29.0M1147.1 652.1h29.0"/>
<path d="M328.0 452.0h-29.0M1147.1 452.0h29.0"/>
<path d="M328.0 251.9h-29.0M1147.1 251.9h29.0"/>
</g>
<text transform="translate(413.4 1113.2) scale(1 1.022)" text-anchor="middle">2280</text>
<text transform="translate(615.6 1113.2) scale(1 1.022)" text-anchor="middle">2285</text>
<text transform="translate(817.8 1113.2) scale(1 1.022)" text-anchor="middle">2290</text>
<text transform="translate(1020.0 1113.2) scale(1 1.022)" text-anchor="middle">2295</text>
<text transform="translate(276.4 875.9) scale(1 1.022)" text-anchor="end">5395</text>
<text transform="translate(276.4 675.8) scale(1 1.022)" text-anchor="end">5400</text>
<text transform="translate(276.4 475.7) scale(1 1.022)" text-anchor="end">5405</text>
<text transform="translate(276.4 275.6) scale(1 1.022)" text-anchor="end">5410</text>
<text transform="translate(737.3 90.0) scale(1 1.022)" text-anchor="middle">Density anomaly</text>
<text transform="translate(737.3 1211.0) scale(1 1.022)" text-anchor="middle">X[km]</text>
<text transform="translate(80.3 612.2) rotate(-90) scale(1 1.022)" text-anchor="middle">Y[km]</text>
<rect x="1354.9" y="199" width="102" height="841.5" fill="#000"/>
<rect x="1365.4" y="208.4" width="82.1" height="821.5" fill="url(#cb)"/>
<g stroke="#000" stroke-width="3.9" fill="none">
<path d="M1456.5 203.7h29.4"/>
<path d="M1456.5 342.3h29.4"/>
<path d="M1456.5 480.9h29.4"/>
<path d="M1456.5 619.5h29.4"/>
<path d="M1456.5 758.0h29.4"/>
<path d="M1456.5 896.6h29.4"/>
<path d="M1456.5 1035.2h29.4"/>
</g>
<text transform="translate(1689.4 227.4) scale(1 1.022)" text-anchor="end">1000</text>
<text transform="translate(1689.4 366.0) scale(1 1.022)" text-anchor="end">500</text>
<text transform="translate(1689.4 504.6) scale(1 1.022)" text-anchor="end">0</text>
<text transform="translate(1689.4 643.2) scale(1 1.022)" text-anchor="end"><tspan dy="8.3">−</tspan><tspan dy="-8.3">500</tspan></text>
<text transform="translate(1689.4 781.7) scale(1 1.022)" text-anchor="end"><tspan dy="8.3">−</tspan><tspan dy="-8.3">1000</tspan></text>
<text transform="translate(1689.4 920.3) scale(1 1.022)" text-anchor="end"><tspan dy="8.3">−</tspan><tspan dy="-8.3">1500</tspan></text>
<text transform="translate(1689.4 1058.9) scale(1 1.022)" text-anchor="end"><tspan dy="8.3">−</tspan><tspan dy="-8.3">2000</tspan></text>
<text transform="translate(1321.6 181.5) scale(1 1.022)" text-anchor="start">kg/m<tspan dx="1" dy="-22.3" font-size="44.5">3</tspan></text>
</svg></body></html>
